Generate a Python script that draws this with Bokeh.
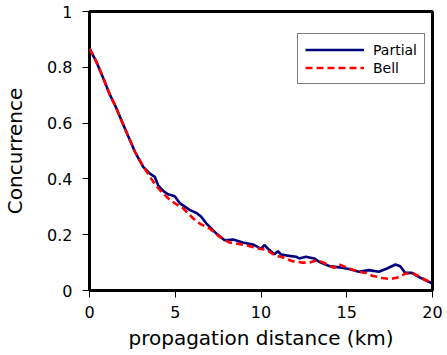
from bokeh.plotting import figure
from bokeh.models import Range1d, FixedTicker, CustomJSTickFormatter, Legend, LegendItem, Title
from bokeh.embed import file_html
from bokeh.resources import INLINE

# Data
partial_x = [0, 0.4, 0.81, 1.2, 1.49, 2.07, 2.65, 3.13, 3.52, 3.81, 4.0, 4.31, 4.58, 4.97,
             5.28, 5.86, 6.24, 6.5, 6.82, 7.4, 7.88, 8.37, 8.94, 9.52, 10.0, 10.2, 10.49,
             10.78, 10.98, 11.17, 11.65, 12.04, 12.23, 12.62, 13.1, 13.39, 13.97, 14.55,
             15.13, 15.71, 16.29, 16.87, 17.35, 17.84, 18.12, 18.41, 18.8, 19.19, 19.57, 20]
partial_y = [0.867, 0.82, 0.76, 0.70, 0.664, 0.58, 0.497, 0.443, 0.419, 0.407, 0.377, 0.356,
             0.345, 0.338, 0.312, 0.288, 0.278, 0.265, 0.240, 0.204, 0.180, 0.183, 0.172,
             0.165, 0.150, 0.163, 0.145, 0.130, 0.141, 0.129, 0.124, 0.121, 0.115, 0.121,
             0.115, 0.103, 0.088, 0.083, 0.077, 0.067, 0.073, 0.067, 0.079, 0.093, 0.087,
             0.063, 0.063, 0.049, 0.037, 0.025]

bell_x = [0, 0.4, 0.81, 1.2, 1.49, 2.07, 2.65, 3.13, 3.5, 3.92, 4.3, 4.70, 5.1, 5.47, 6.05,
          6.43, 7.01, 7.59, 8.17, 8.6, 9.14, 9.91, 10.3, 10.88, 11.17, 11.84, 12.42, 12.81,
          13.29, 13.68, 14.26, 14.55, 15.13, 15.71, 16.1, 16.48, 17.06, 17.55, 18.12, 18.41,
          18.9, 19.38, 20]
bell_y = [0.867, 0.82, 0.76, 0.70, 0.664, 0.58, 0.497, 0.445, 0.41, 0.372, 0.348, 0.324,
          0.308, 0.294, 0.258, 0.240, 0.222, 0.192, 0.172, 0.168, 0.162, 0.150, 0.146, 0.124,
          0.121, 0.105, 0.100, 0.100, 0.109, 0.099, 0.081, 0.094, 0.079, 0.067, 0.063, 0.053,
          0.045, 0.041, 0.049, 0.061, 0.061, 0.045, 0.025]

x_ticks = [0, 5, 10, 15, 20]
y_ticks = [0, 0.2, 0.4, 0.6, 0.8, 1]
x_title = "propagation distance (km)"
y_title = "Concurrence"

FONT = "DejaVu Sans"

p = figure(width=445, height=353, output_backend="svg", toolbar_location=None,
           x_range=Range1d(0, 20), y_range=Range1d(0, 1),
           min_border_left=87, min_border_right=13, min_border_top=11, min_border_bottom=63)

p.xgrid.visible = False
p.ygrid.visible = False
p.outline_line_color = "black"
p.outline_line_width = 3
p.outline_line_alpha = 1.0

for ax in (p.xaxis[0], p.yaxis[0]):
    ax.axis_line_color = None
    ax.major_tick_line_color = "black"
    ax.major_tick_line_width = 1
    ax.major_tick_in = 0
    ax.major_tick_out = 7
    ax.minor_tick_line_color = None
    ax.major_label_text_font = FONT
    ax.major_label_text_font_size = "16px"
    ax.major_label_text_color = "black"
    ax.axis_label_text_font = FONT
    ax.axis_label_text_font_size = "20px"
    ax.axis_label_text_font_style = "normal"
    ax.axis_label_text_color = "black"

p.xaxis.ticker = FixedTicker(ticks=x_ticks)
p.yaxis.ticker = FixedTicker(ticks=y_ticks)
p.yaxis.formatter = CustomJSTickFormatter(code="return String(Math.round(tick*10)/10);")
p.yaxis.axis_label = y_title
p.xaxis.major_label_standoff = 8
p.yaxis.major_label_standoff = 10
p.yaxis.axis_label_standoff = 17

xt = Title(text=x_title, align="center", vertical_align="bottom", text_font=FONT,
           text_font_size="20px", text_font_style="normal", text_color="black",
           text_line_height=0.7, standoff=6)
p.add_layout(xt, "below")

r1 = p.line(partial_x, partial_y, line_color="#00007f", line_width=2.6)
r2 = p.line(bell_x, bell_y, line_color="#ff0000", line_width=2.6, line_dash="7 4")

legend = Legend(items=[LegendItem(label="Partial", renderers=[r1]),
                       LegendItem(label="Bell", renderers=[r2])],
                location=(208, 206))
legend.label_text_font = FONT
legend.label_text_font_size = "14px"
legend.label_text_color = "black"
legend.glyph_width = 59
legend.glyph_height = 17
legend.label_height = 17
legend.label_standoff = 9
legend.spacing = 1
legend.padding = 7
legend.margin = 0
legend.border_line_color = "black"
legend.border_line_width = 1
legend.background_fill_alpha = 1.0
p.add_layout(legend, "center")

open("out.html", "w").write(file_html(p, INLINE))
